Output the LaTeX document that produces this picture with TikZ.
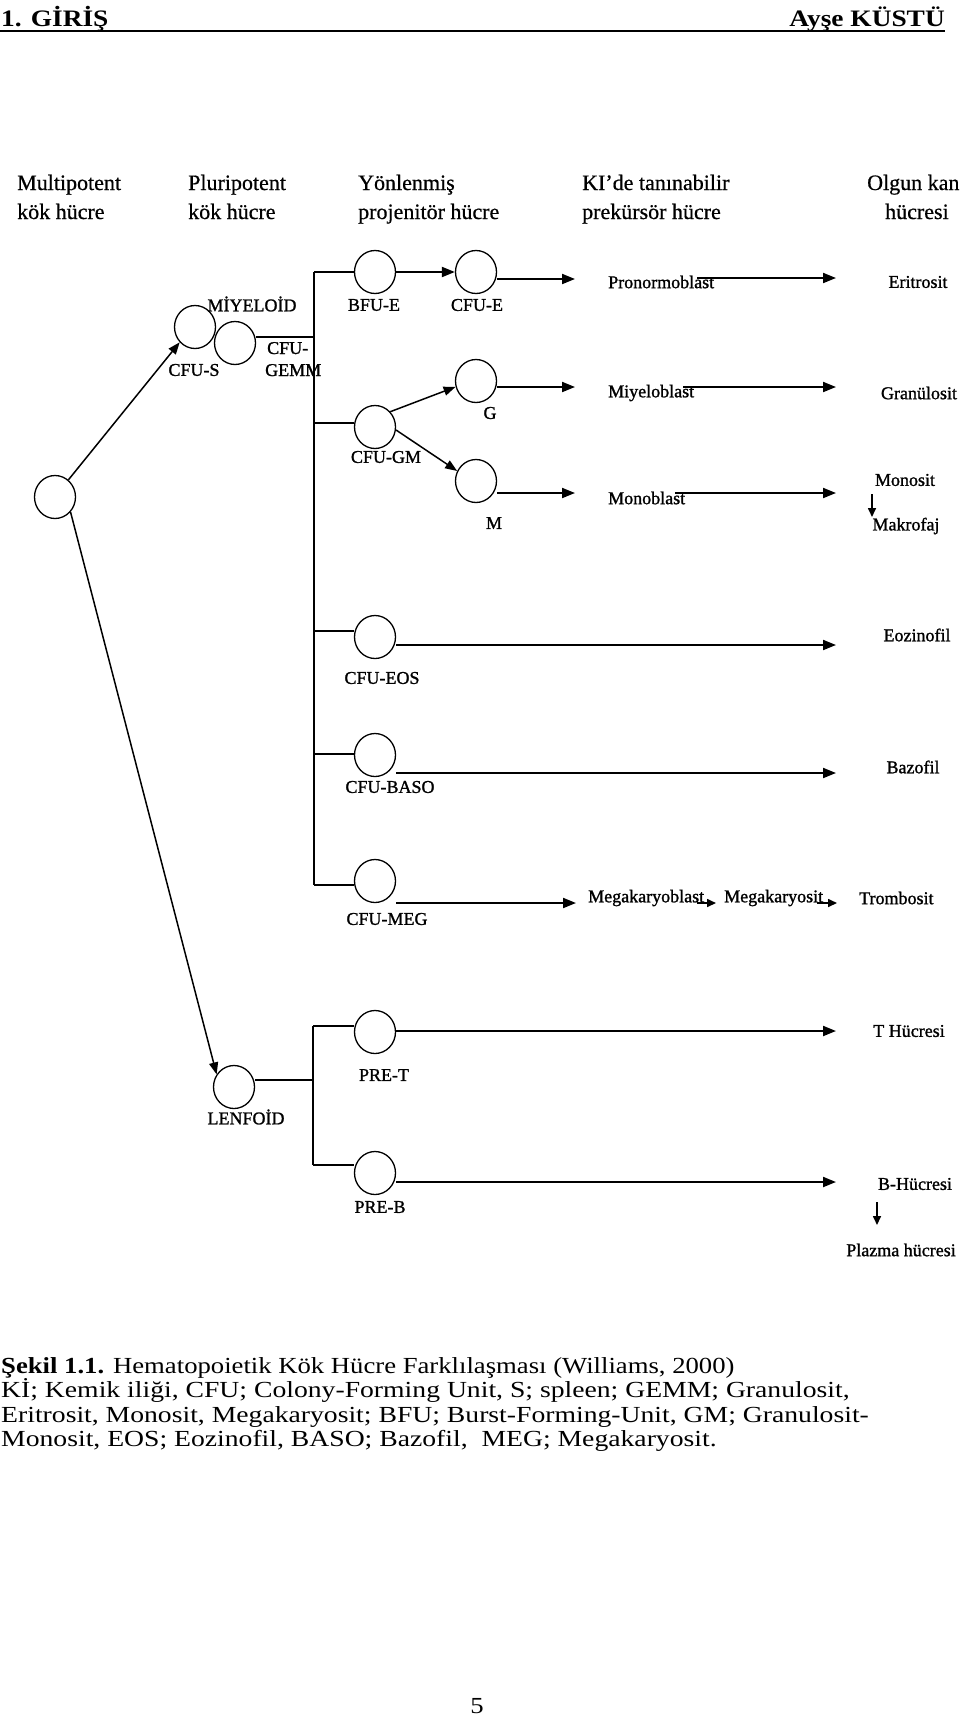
\documentclass[tikz,border=0pt]{standalone}
\usepackage{fontspec}
\setmainfont{Liberation Serif}
\newfontfamily\lblfont{Liberation Serif}[FakeBold=1.2]
\newfontfamily\hdrfont{Liberation Serif}[FakeBold=0.6]
\newfontfamily\widefont{Liberation Serif}[FakeStretch=1.16]
\newfontfamily\widerfont{Liberation Serif}[FakeStretch=1.203]
\usetikzlibrary{arrows.meta,shapes.geometric}
\begin{document}
\begin{tikzpicture}[x=1pt,y=-1pt,
  cell/.style={ellipse, draw, line width=1.3pt, minimum width=41pt, minimum height=43pt, inner sep=0pt},
  lbl/.style={font=\lblfont\fontsize{18}{22}\selectfont, inner sep=0pt},
  hdr/.style={font=\hdrfont\fontsize{22}{25}\selectfont, inner sep=0pt, anchor=base west},
  captext/.style={font=\widefont\fontsize{23}{25}\selectfont, inner sep=0pt, anchor=base west},
  captextw/.style={font=\widerfont\fontsize{23}{25}\selectfont, inner sep=0pt, anchor=base west},
  pagehead/.style={font=\widefont\bfseries\fontsize{23.6}{25}\selectfont, inner sep=0pt},
  ln/.style={line width=2pt},
  arr/.style={line width=2pt, -{Triangle[length=13pt,width=10pt]}},
  darr/.style={line width=1.5pt, -{Triangle[length=12pt,width=9pt]}},
  sarr/.style={line width=1.6pt, -{Triangle[length=9pt,width=8pt]}}
]
\useasboundingbox (0,0) rectangle (960,1716);

% page header
\node[pagehead, anchor=base west] (h1) at (1,26) {1. GİRİŞ};
\node[pagehead, anchor=base east] (h2) at (945,26) {Ayşe KÜSTÜ};
\draw[line width=2.5pt] (0,31) -- (945,31);

% column headers
\node[hdr] (c1a) at (17,190) {Multipotent};
\node[hdr] (c1b) at (17,219) {kök hücre};
\node[hdr] (c2a) at (188,190) {Pluripotent};
\node[hdr] (c2b) at (188,219) {kök hücre};
\node[hdr] (c3a) at (358,190) {Yönlenmiş};
\node[hdr] (c3b) at (358,219) {projenitör hücre};
\node[hdr] (c4a) at (582,190) {KI’de tanınabilir};
\node[hdr] (c4b) at (582,219) {prekürsör hücre};
\node[hdr] (c5a) at (867,190) {Olgun kan};
\node[hdr] (c5b) at (885,219) {hücresi};

% cells
\node[cell] (multi) at (55,497) {};
\node[cell] (cfus) at (195,327) {};
\node[cell] (gemm) at (235,343) {};
\node[cell] (bfue) at (375,272) {};
\node[cell] (cfue) at (476,272) {};
\node[cell] (g) at (476,381) {};
\node[cell] (cfugm) at (375,427) {};
\node[cell] (m) at (476,481) {};
\node[cell] (eos) at (375,637) {};
\node[cell] (baso) at (375,755) {};
\node[cell] (meg) at (375,881) {};
\node[cell] (lenf) at (234,1087) {};
\node[cell] (pret) at (375,1032) {};
\node[cell] (preb) at (375,1173) {};

% cell labels
\node[lbl] (miyl) at (252,304) {MİYELOİD};
\node[lbl] (cfusl) at (194,370) {CFU-S};
\node[lbl, anchor=base west] (gemml1) at (267,354) {CFU-};
\node[lbl, anchor=base west] (gemml2) at (265,376) {GEMM};
\node[lbl] (bfuel) at (374,305) {BFU-E};
\node[lbl] (cfuel) at (477,305) {CFU-E};
\node[lbl] (gl) at (490,413) {G};
\node[lbl] (cfugml) at (386,457) {CFU-GM};
\node[lbl] (ml) at (494,523) {M};
\node[lbl] (eosl) at (382,678) {CFU-EOS};
\node[lbl] (basol) at (390,787) {CFU-BASO};
\node[lbl] (megl) at (387,919) {CFU-MEG};
\node[lbl] (lenfl) at (246,1117) {LENFOİD};
\node[lbl] (pretl) at (384,1075) {PRE-T};
\node[lbl] (prebl) at (380,1207) {PRE-B};

% multipotent to lineages
\draw[darr] (multi.52) -- (cfus.225);
\draw[darr] (multi.-44) -- (lenf.144);

% myeloid trunk
\coordinate (mt) at (314,272);
\coordinate (mb) at (314,885);
\coordinate (gj) at (314,337);
\draw[ln] (mt) -- (mb);
\draw[ln] (gemm.east |- gj) -- (gj);
\draw[ln] (mt) -- (bfue.west);
\coordinate (jgm) at (314,423);
\draw[ln] (jgm) -- (cfugm.west |- jgm);
\coordinate (jeos) at (314,631);
\draw[ln] (jeos) -- (eos.west |- jeos);
\coordinate (jbaso) at (314,754);
\draw[ln] (jbaso) -- (baso.west |- jbaso);
\draw[ln] (mb) -- (meg.west |- mb);

\draw[arr] (bfue) -- (cfue);
\draw[darr] (cfugm.45) -- (g.196);
\draw[darr] (cfugm.352) -- (m.152);

% row 1: erythroid
\coordinate (t1) at (575,279);
\draw[arr] (cfue.east |- t1) -- (t1);
\node[lbl, anchor=west] (pro) at (608,282) {Pronormoblast};
\coordinate (s1) at (697,278);
\coordinate (e1) at (836,278);
\draw[arr] (s1) -- (e1);
\node[lbl] (eri) at (918,282) {Eritrosit};

% row 2: granulocyte
\coordinate (t2) at (575,387);
\draw[arr] (g.east |- t2) -- (t2);
\node[lbl, anchor=west] (miyb) at (608,393) {Miyeloblast};
\coordinate (s2) at (683,387);
\coordinate (e2) at (836,387);
\draw[arr] (s2) -- (e2);
\node[lbl] (gra) at (919,393) {Granülosit};

% row 3: monocyte
\coordinate (t3) at (575,493);
\draw[arr] (m.east |- t3) -- (t3);
\node[lbl, anchor=west] (monob) at (608,498) {Monoblast};
\coordinate (s3) at (675,493);
\coordinate (e3) at (836,493);
\draw[arr] (s3) -- (e3);
\node[lbl] (mono) at (905,480) {Monosit};
\node[lbl] (makro) at (906,526) {Makrofaj};
\coordinate (ma1) at (872,494);
\coordinate (ma2) at (872,517);
\draw[sarr] (ma1) -- (ma2);

% eosinophil
\coordinate (t4) at (836,645);
\draw[arr] (eos.east |- t4) -- (t4);
\node[lbl] (eozi) at (917,635) {Eozinofil};

% basophil
\coordinate (t5) at (836,773);
\draw[arr] (baso.east |- t5) -- (t5);
\node[lbl] (bazo) at (913,767) {Bazofil};

% megakaryocyte
\coordinate (t6) at (576,903);
\draw[arr] (meg.east |- t6) -- (t6);
\node[lbl, anchor=west] (mkb) at (588,898) {Megakaryoblast};
\coordinate (s7) at (697,903);
\coordinate (e7) at (716,903);
\draw[sarr] (s7) -- (e7);
\node[lbl, anchor=west] (mks) at (724,898) {Megakaryosit};
\coordinate (s8) at (817,903);
\coordinate (e8) at (837,903);
\draw[sarr] (s8) -- (e8);
\node[lbl, anchor=west] (trom) at (859,898) {Trombosit};

% lymphoid
\coordinate (lj) at (313,1080);
\coordinate (lt) at (313,1026);
\coordinate (lb) at (313,1165);
\draw[ln] (lenf.east |- lj) -- (lj);
\draw[ln] (lt) -- (lb);
\draw[ln] (lt) -- (pret.west |- lt);
\draw[ln] (lb) -- (preb.west |- lb);
\coordinate (t9) at (836,1031);
\draw[arr] (pret.east |- t9) -- (t9);
\node[lbl] (thuc) at (909,1031) {T Hücresi};
\coordinate (t10) at (836,1182);
\draw[arr] (preb.east |- t10) -- (t10);
\node[lbl] (bhuc) at (915,1184) {B-Hücresi};
\coordinate (ba1) at (877,1202);
\coordinate (ba2) at (877,1225);
\draw[sarr] (ba1) -- (ba2);
\node[lbl] (plaz) at (901,1250) {Plazma hücresi};

% caption
\node[captext] (cap1) at (1,1373) {\textbf{Şekil 1.1.} Hematopoietik Kök Hücre Farklılaşması (Williams, 2000)};
\node[captextw] (cap2) at (1,1397.5) {Kİ; Kemik iliği, CFU; Colony-Forming Unit, S; spleen; GEMM; Granulosit,};
\node[captextw] (cap3) at (1,1422) {Eritrosit, Monosit, Megakaryosit; BFU; Burst-Forming-Unit, GM; Granulosit-};
\node[captextw] (cap4) at (1,1446.5) {Monosit, EOS; Eozinofil, BASO; Bazofil,\ \ MEG; Megakaryosit.};

% page number
\node[font=\widefont\fontsize{23}{23}\selectfont, inner sep=0pt, anchor=base] (pg) at (477,1713) {5};
\end{tikzpicture}
\end{document}
